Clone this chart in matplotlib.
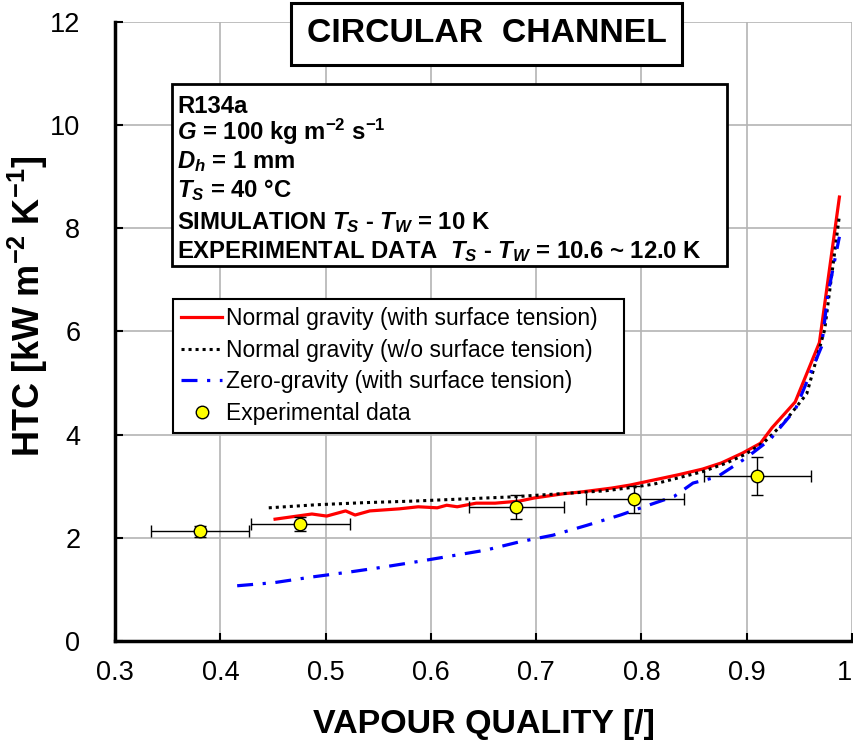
import matplotlib
matplotlib.use("Agg")
import matplotlib.pyplot as plt
from matplotlib.patches import Rectangle

plt.rcParams['font.family'] = ['Liberation Sans', 'DejaVu Sans']
plt.rcParams['mathtext.fontset'] = 'custom'
plt.rcParams['mathtext.rm'] = 'Liberation Sans:bold'
plt.rcParams['mathtext.it'] = 'Liberation Sans:bold:italic'
plt.rcParams['mathtext.bf'] = 'Liberation Sans:bold'

# normal gravity, with surface tension
red_x = [0.452, 0.487, 0.501, 0.519, 0.528, 0.542, 0.570, 0.588, 0.606, 0.615, 0.625,
         0.643, 0.661, 0.684, 0.698, 0.725, 0.744, 0.771, 0.789, 0.812, 0.835, 0.858,
         0.876, 0.896, 0.913, 0.924, 0.946, 0.969, 0.988]
red_y = [2.36, 2.46, 2.42, 2.52, 2.44, 2.52, 2.56, 2.60, 2.58, 2.63, 2.60,
         2.67, 2.67, 2.71, 2.77, 2.85, 2.89, 2.96, 3.02, 3.12, 3.22, 3.33,
         3.45, 3.64, 3.83, 4.13, 4.63, 5.78, 8.60]

# normal gravity, without surface tension
blk_x = [0.446, 0.492, 0.537, 0.583, 0.629, 0.675, 0.721, 0.766, 0.789, 0.812, 0.835,
         0.858, 0.881, 0.899, 0.917, 0.935, 0.957, 0.974, 0.988]
blk_y = [2.58, 2.64, 2.68, 2.71, 2.75, 2.79, 2.85, 2.91, 2.97, 3.04, 3.16,
         3.28, 3.45, 3.62, 3.86, 4.22, 4.79, 6.03, 8.24]

# zero gravity, with surface tension
blu_x = [0.416, 0.451, 0.487, 0.524, 0.551, 0.588, 0.620, 0.652, 0.684, 0.716, 0.748,
         0.780, 0.808, 0.831, 0.849, 0.872, 0.899, 0.922, 0.946, 0.971, 0.977, 0.988]
blu_y = [1.07, 1.13, 1.24, 1.34, 1.42, 1.54, 1.65, 1.76, 1.92, 2.05, 2.24,
         2.44, 2.64, 2.80, 3.06, 3.18, 3.54, 3.90, 4.48, 5.70, 6.71, 7.83]

# experimental data
exp_x = [0.381, 0.476, 0.681, 0.793, 0.910]
exp_y = [2.14, 2.27, 2.59, 2.76, 3.20]
exp_xlo = [0.334, 0.429, 0.636, 0.747, 0.859]
exp_xhi = [0.427, 0.523, 0.726, 0.840, 0.961]
exp_ylo = [2.02, 2.14, 2.36, 2.47, 2.82]
exp_yhi = [2.23, 2.40, 2.82, 3.01, 3.56]

info_lines = [
    'R134a',
    '$G$ = 100 kg m$^{-2}$ s$^{-1}$',
    '$D_h$ = 1 mm',
    '$T_S$ = 40 °C',
    'SIMULATION $T_S$ - $T_W$ = 10 K',
    'EXPERIMENTAL DATA  $T_S$ - $T_W$ = 10.6 ~ 12.0 K',
]

fig = plt.figure(figsize=(8.54, 7.47), dpi=100)
ax = fig.add_axes([0.1347, 0.1419, 0.8630, 0.8293])

ax.plot(red_x, red_y, color='red', lw=2.3, label='Normal gravity (with surface tension)', zorder=4)
ax.plot(blk_x, blk_y, color='black', lw=2.2, linestyle=(0, (1, 1.3)),
        label='Normal gravity (w/o surface tension)', zorder=4)
ax.plot(blu_x, blu_y, color='blue', lw=2.3, linestyle=(0, (5, 3, 1, 3)),
        label='Zero-gravity (with surface tension)', zorder=4)

xerr = [[x - lo for x, lo in zip(exp_x, exp_xlo)], [hi - x for x, hi in zip(exp_x, exp_xhi)]]
yerr = [[y - lo for y, lo in zip(exp_y, exp_ylo)], [hi - y for y, hi in zip(exp_y, exp_yhi)]]
ax.errorbar(exp_x, exp_y, xerr=xerr, yerr=yerr, fmt='none', ecolor='black',
            elinewidth=1, capsize=4, capthick=1, zorder=5)
ax.plot(exp_x, exp_y, 'o', color='#ffff00', mec='black', mew=1, ms=9,
        label='Experimental data', zorder=6)

ax.set_xlim(0.3, 1.0)
ax.set_ylim(0, 12)
ax.set_xticks([0.3, 0.4, 0.5, 0.6, 0.7, 0.8, 0.9, 1.0])
ax.set_xticklabels(['0.3', '0.4', '0.5', '0.6', '0.7', '0.8', '0.9', '1'])
ax.get_xticklabels()[-1].set_horizontalalignment('right')
ax.set_yticks(range(0, 13, 2))
ax.tick_params(labelsize=19.5, direction='in', length=6, width=1.5)
ax.tick_params(axis='x', pad=14)
ax.tick_params(axis='y', pad=25)
ax.grid(True, color='#b4b4b4', lw=1.2)
ax.set_axisbelow(True)
for s in ['top', 'right']:
    ax.spines[s].set_visible(False)
for s in ['left', 'bottom']:
    ax.spines[s].set_linewidth(2.5)

ax.set_xlabel('VAPOUR QUALITY [/]', fontsize=24.5, fontweight='bold', labelpad=16)
ax.set_ylabel('HTC [kW m$^{-2}$ K$^{-1}$]', fontsize=26, fontweight='bold')
ax.yaxis.set_label_coords(-0.088, 0.54)

# title box
ax.text(0.504, 0.980, 'CIRCULAR  CHANNEL', transform=ax.transAxes, ha='center', va='center',
        fontsize=24.3, fontweight='bold', zorder=10, clip_on=False,
        bbox=dict(boxstyle='square,pad=0.45', fc='white', ec='black', lw=2.2))

# info box
ax.add_patch(Rectangle((0.0773, 0.605), 0.7527, 0.294, transform=ax.transAxes,
                       fc='white', ec='black', lw=2, zorder=8))
ys = [0.852, 0.809, 0.764, 0.717, 0.665, 0.618]
for txt, y in zip(info_lines, ys):
    ax.text(0.084, y, txt, transform=ax.transAxes, ha='left', va='baseline',
            fontsize=17.2, fontweight='bold', zorder=9)

leg = ax.legend(loc='upper left', bbox_to_anchor=(0.0787, 0.35, 0.612, 0.202),
                mode='expand', borderaxespad=0,
                fontsize=16.5, handlelength=1.8, handletextpad=0.15, labelspacing=0.38,
                fancybox=False, framealpha=1, edgecolor='black', borderpad=0.35)
leg.get_frame().set_linewidth(1.5)
leg.set_zorder(10)

fig.savefig('out.png', dpi=100)
